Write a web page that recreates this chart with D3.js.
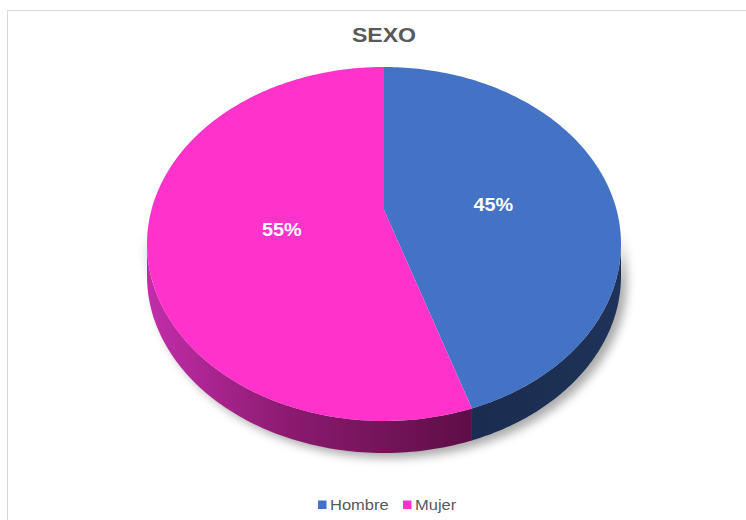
<!DOCTYPE html>
<html><head><meta charset="utf-8">
<script src="https://cdn.jsdelivr.net/npm/d3@7"></script>
<style>body{margin:0;background:#fff}svg{display:block;font-family:"Liberation Sans",Arial,sans-serif}</style>
</head><body>
<svg id="c" width="746" height="520"></svg>
<script>
const categories = ["Hombre", "Mujer"];
const values = [45, 55];
const topColors = ["#4472C4", "#FF33CC"];
const title = "SEXO";

const svg = d3.select("#c");
// projected pie geometry (perspective-tilted disk)
const cx = 384, cy0 = 210, A = 232.6, B = 170.5, k = 0.192, depth = 32;
const proj = (theta, r, dy) => {
  const u = r * Math.sin(theta), v = -r * Math.cos(theta);
  const w = 1 - k * v;
  return [cx + A * u / w, cy0 + B * v / w + (dy || 0)];
};
const sideFrom = Math.acos(-k), sideTo = 2 * Math.PI - Math.acos(-k);

svg.append("rect").attr("x", 7.5).attr("y", 10.5).attr("width", 800).attr("height", 600)
  .attr("fill", "#fff").attr("stroke", "#d9d9d9");

const defs = svg.append("defs");
const f = defs.append("filter").attr("id", "sh").attr("x", "-20%").attr("y", "-30%").attr("width", "140%").attr("height", "170%");
f.append("feGaussianBlur").attr("stdDeviation", 5);
const g1 = defs.append("linearGradient").attr("id", "gPink").attr("gradientUnits", "userSpaceOnUse")
  .attr("x1", 147).attr("y1", 0).attr("x2", 470).attr("y2", 0);
g1.append("stop").attr("offset", 0).attr("stop-color", "#c22daa");
g1.append("stop").attr("offset", 0.45).attr("stop-color", "#8a1a6e");
g1.append("stop").attr("offset", 1).attr("stop-color", "#5f0e47");
const g0 = defs.append("linearGradient").attr("id", "gBlue").attr("gradientUnits", "userSpaceOnUse")
  .attr("x1", 470).attr("y1", 0).attr("x2", 621).attr("y2", 0);
g0.append("stop").attr("offset", 0).attr("stop-color", "#1a2c4f");
g0.append("stop").attr("offset", 1).attr("stop-color", "#1e3358");
const sideFill = ["url(#gBlue)", "url(#gPink)"];

const color = d3.scaleOrdinal().domain(categories).range(topColors);
const pie = d3.pie().sort(null).value(d => d.v);
const data = categories.map((c, i) => ({ c, v: values[i], i }));
const arcs = pie(data);
const line = d3.line();
const steps = (a0, a1, n) => d3.range(n + 1).map(j => a0 + (a1 - a0) * j / n);

// shadow
svg.append("path")
  .attr("d", line(steps(sideFrom - 0.15, sideTo + 0.05, 120).map(a => proj(a, 1, depth + 5)).map(p => [p[0] + 6, p[1]])
    .concat(steps(sideTo + 0.05, sideFrom - 0.15, 120).map(a => proj(a, 1, 0)))) + "Z")
  .attr("fill", "rgba(0,0,0,0.33)").attr("filter", "url(#sh)");

// sides
arcs.forEach(d => {
  const a0 = Math.max(d.startAngle, sideFrom), a1 = Math.min(d.endAngle, sideTo);
  if (a1 <= a0) return;
  const topArc = steps(a0, a1, 100).map(a => proj(a, 1, 0));
  const botArc = steps(a1, a0, 100).map(a => proj(a, 1, depth));
  svg.append("path").attr("d", line(topArc.concat(botArc)) + "Z").attr("fill", sideFill[d.data.i]);
});

// top faces
svg.selectAll("path.top").data(arcs).join("path").attr("class", "top")
  .attr("d", d => line([proj(0, 0)].concat(steps(d.startAngle, d.endAngle, 160).map(a => proj(a, 1, 0)))) + "Z")
  .attr("fill", d => color(d.data.c));

// labels
const total = d3.sum(values);
svg.selectAll("text.lbl").data(arcs).join("text").attr("class", "lbl")
  .attr("transform", d => {
    const p = proj((d.startAngle + d.endAngle) / 2, 0.46, 7);
    return `translate(${p[0] + 5},${p[1]}) scale(1.1,1)`;
  })
  .attr("text-anchor", "middle").attr("dominant-baseline", "central")
  .attr("fill", "#fff").attr("font-weight", "bold").attr("font-size", 18)
  .text(d => Math.round(d.data.v / total * 100) + "%");

svg.append("text").attr("transform", `translate(${cx},35) scale(1.1,1)`).attr("text-anchor", "middle").attr("dominant-baseline", "central")
  .attr("font-size", 21).attr("font-weight", "bold").attr("fill", "#595959").text(title);

// legend
const legX = [318, 403];
categories.forEach((c, i) => {
  svg.append("rect").attr("x", legX[i]).attr("y", 500.5).attr("width", 8.5).attr("height", 8.5).attr("fill", color(c));
  svg.append("text").attr("transform", `translate(${legX[i] + 12},505) scale(1.1,1)`).attr("dominant-baseline", "central")
    .attr("font-size", 15).attr("fill", "#595959").text(c);
});
</script>
</body></html>
